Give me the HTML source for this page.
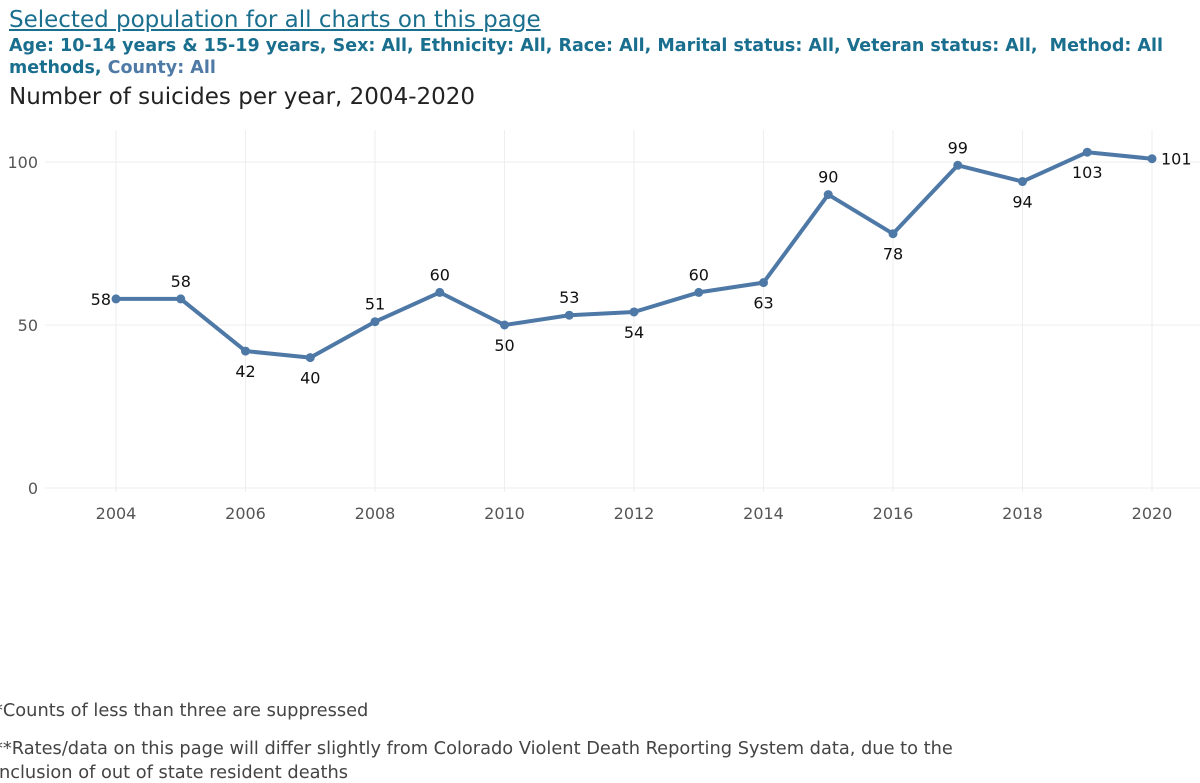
<!DOCTYPE html>
<html><head><meta charset="utf-8"><style>
html,body{margin:0;padding:0;width:1200px;height:778px;overflow:hidden;background:#fff;font-family:"DejaVu Sans","Liberation Sans",sans-serif;}
#hdr{position:absolute;left:9px;top:5px;width:1188px;}
#t1{font-size:23px;color:#1a6e8e;text-decoration:underline;line-height:30px;}
#t2{font-size:17.5px;font-weight:bold;color:#1a6e8e;line-height:22px;}
#t2 .c{color:#4f7aa6;}
#t3{position:absolute;left:9px;top:84px;font-size:23px;color:#222;}
.foot{position:absolute;left:-6px;font-size:17.8px;color:#444;white-space:nowrap;}
svg{position:absolute;left:0;top:0;}
</style></head><body>
<div id="hdr">
<div id="t1">Selected population for all charts on this page</div>
<div id="t2">Age: 10-14 years &amp; 15-19 years, Sex: All, Ethnicity: All, Race: All, Marital status: All, Veteran status: All, &nbsp;Method: All methods, <span class="c">County: All</span></div>
</div>
<div id="t3">Number of suicides per year, 2004-2020</div>
<svg id="chart" width="1200" height="778"></svg>
<div class="foot" style="top:700px">*Counts of less than three are suppressed</div>
<div class="foot" style="top:738px">**Rates/data on this page will differ slightly from Colorado Violent Death Reporting System data, due to the</div>
<div class="foot" style="top:762px">inclusion of out of state resident deaths</div>
<script>
const years=[2004,2005,2006,2007,2008,2009,2010,2011,2012,2013,2014,2015,2016,2017,2018,2019,2020];
const counts=[58,58,42,40,51,60,50,53,54,60,63,90,78,99,94,103,101];
const yTicks=[0,50,100];
const xTicks=[2004,2006,2008,2010,2012,2014,2016,2018,2020];
const labelPos=['left','above','below','below','above','above','below','above','below','above','below','above','below','above','below','below','right'];
const NS='http://www.w3.org/2000/svg';
const svg=document.getElementById('chart');
function x(v){return 116+(v-2004)*(1152-116)/16;}
function y(v){return 488-v*3.26;}
function mk(t,a){const e=document.createElementNS(NS,t);for(const k in a)e.setAttribute(k,a[k]);svg.appendChild(e);return e;}
yTicks.forEach(v=>{
 const l=mk('line',{x1:45,x2:1200,y1:y(v),y2:y(v),stroke:'#eeeeee','stroke-width':1});
 
 
 const t=mk('text',{x:38,y:y(v)+6,'text-anchor':'end','font-size':16,fill:'#555','font-family':'DejaVu Sans, sans-serif'});
 t.textContent=v;
 
 
});
xTicks.forEach(v=>{
 const l=mk('line',{x1:x(v),x2:x(v),y1:130,y2:492,stroke:'#eeeeee','stroke-width':1});
 
 
 const t=mk('text',{x:x(v),y:519,'text-anchor':'middle','font-size':16,fill:'#555','font-family':'DejaVu Sans, sans-serif'});
 t.textContent=v;
 
 
});
const p=mk('polyline',{points:years.map((yr,i)=>x(yr)+','+y(counts[i])).join(' '),fill:'none',stroke:'#4e79a7','stroke-width':4,'stroke-linejoin':'round'});


years.forEach((yr,i)=>{
 const cx=x(yr),cy=y(counts[i]);
 const c=mk('circle',{cx:cx,cy:cy,r:4.5,fill:'#4e79a7'});
 
 
 let tx=cx,ty=cy,anc='middle';
 const pos=labelPos[i];
 if(pos==='above')ty=cy-12;else if(pos==='below')ty=cy+26;else if(pos==='left'){tx=cx-5;ty=cy+6;anc='end';}else{tx=cx+9;ty=cy+6;anc='start';}
 const t=mk('text',{x:tx,y:ty,'text-anchor':anc,'font-size':16,fill:'#111','font-family':'DejaVu Sans, sans-serif'});
 t.textContent=counts[i];
 
 
});
</script>
</body></html>
